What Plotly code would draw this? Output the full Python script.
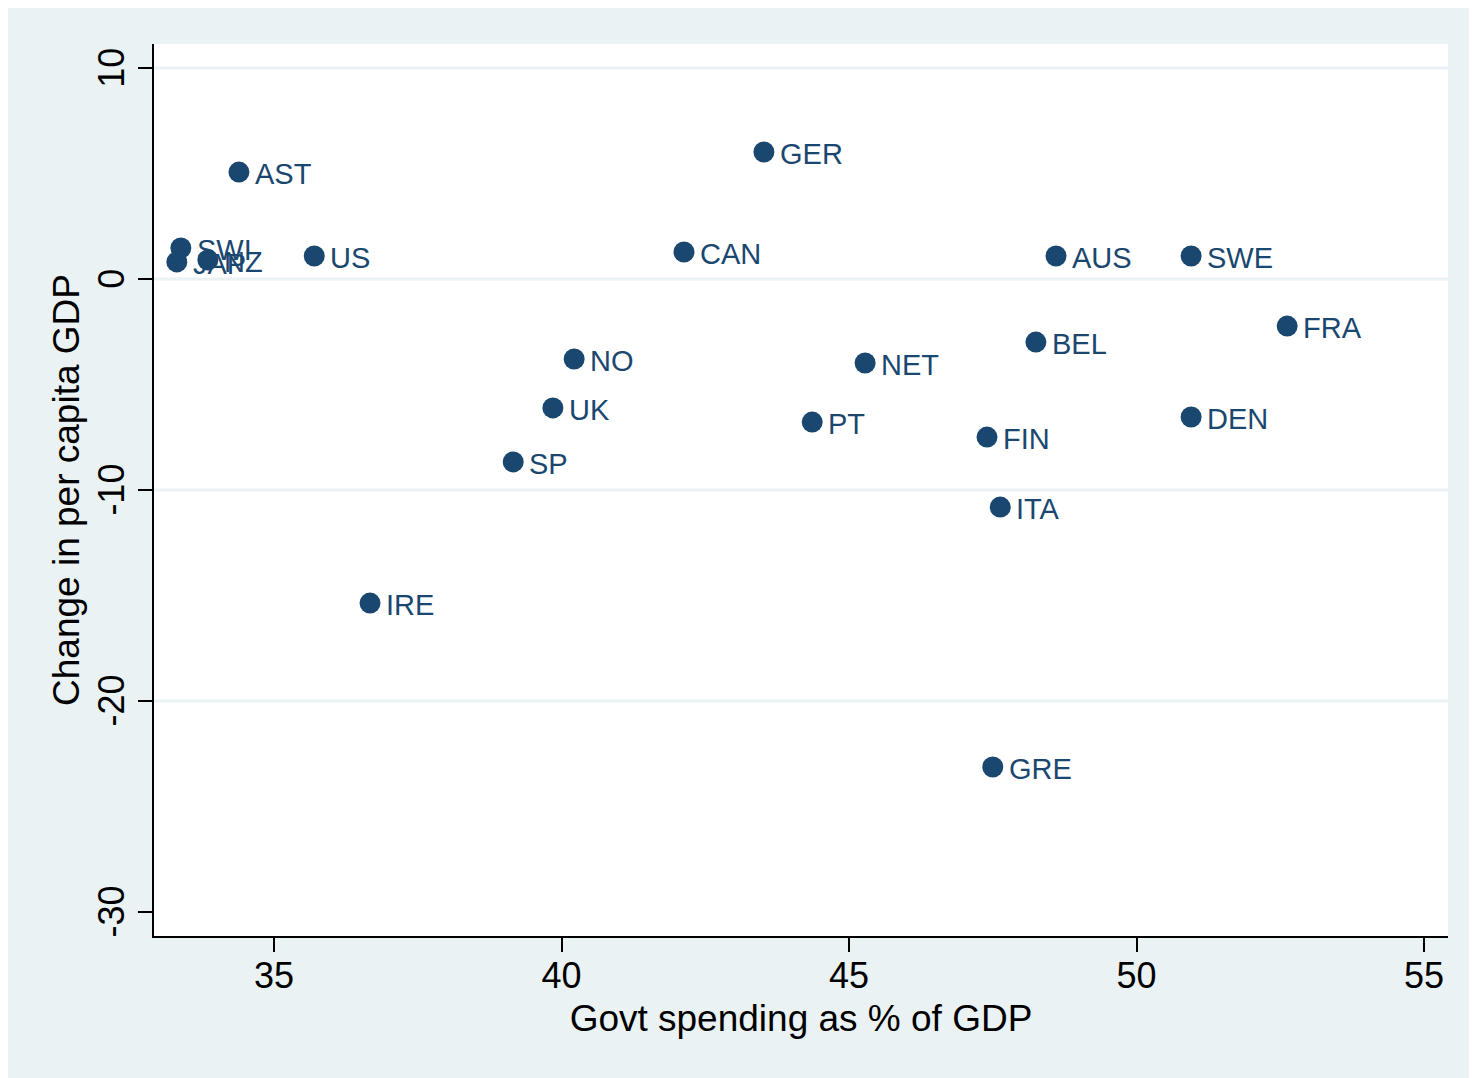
import plotly.graph_objects as go

countries = ["AST", "GER", "SWI", "JAP", "NZ", "US", "CAN", "AUS", "SWE", "FRA",
             "BEL", "NET", "NO", "UK", "PT", "FIN", "DEN", "SP", "ITA", "IRE", "GRE"]
govt_spending = [34.39, 43.52, 33.38, 33.31, 33.85, 35.70, 42.13, 48.60, 50.95, 52.62,
                 48.25, 45.28, 40.22, 39.85, 44.36, 47.40, 50.95, 39.16, 47.63, 36.67, 47.50]
gdp_change = [5.07, 6.02, 1.47, 0.81, 0.90, 1.09, 1.28, 1.09, 1.09, -2.23,
              -2.99, -3.98, -3.79, -6.11, -6.78, -7.49, -6.54, -8.67, -10.81, -15.36, -23.13]
x_ticks = [35, 40, 45, 50, 55]
y_ticks = [-30, -20, -10, 0, 10]
y_grid = [-20, -10, 0, 10]

NAVY = "#1A476F"
BG = "#EAF2F3"
FONT = "Liberation Sans, Arial, Helvetica, sans-serif"

# page has an 8px body margin; figure spans the light-blue region
W, H = 1462, 1070
ML, MT = 146, 36
PW, PH = 1294, 892
MR = W - ML - PW
MB = H - MT - PH

fig = go.Figure()
fig.add_trace(go.Scatter(
    x=govt_spending, y=gdp_change, text=countries,
    mode="markers",
    marker=dict(size=21, color=NAVY, line=dict(width=0)),
    cliponaxis=False, hoverinfo="text",
))

for cx, cy, name in zip(govt_spending, gdp_change, countries):
    fig.add_annotation(
        x=cx, y=cy, text=name, showarrow=False,
        xanchor="left", yanchor="middle", xshift=14, yshift=-2,
        font=dict(family=FONT, size=29, color=NAVY),
    )

shapes = []
for g in y_grid:
    shapes.append(dict(type="line", xref="paper", yref="y", layer="below",
                       x0=0, x1=1, y0=g, y1=g, line=dict(color=BG, width=3)))

fig.update_layout(
    width=W, height=H,
    margin=dict(l=ML, r=MR, t=MT, b=MB),
    paper_bgcolor=BG, plot_bgcolor="white",
    showlegend=False, shapes=shapes,
    font=dict(family=FONT, color="black"),
    xaxis=dict(
        range=[32.913, 55.417], tickvals=x_ticks, ticktext=[str(v) for v in x_ticks],
        showgrid=False, zeroline=False, showline=True, linecolor="black", linewidth=2,
        ticks="outside", ticklen=14, tickwidth=2, tickcolor="black",
        ticklabelstandoff=-7,
        tickfont=dict(size=36, family=FONT, color="black"),
        title=dict(text="Govt spending as % of GDP", font=dict(size=37, family=FONT, color="black"), standoff=10),
    ),
    yaxis=dict(
        range=[-31.14, 11.14], tickvals=y_ticks, ticktext=[str(v) for v in y_ticks],
        showgrid=False, zeroline=False, showline=True, linecolor="black", linewidth=2,
        ticks="outside", ticklen=14, tickwidth=2, tickcolor="black", tickangle=-90,
        ticklabelshift=5,
        tickfont=dict(size=36, family=FONT, color="black"),
        title=dict(text="Change in per capita GDP", font=dict(size=37, family=FONT, color="black"), standoff=0),
    ),
)

fig.write_html("out.html")
